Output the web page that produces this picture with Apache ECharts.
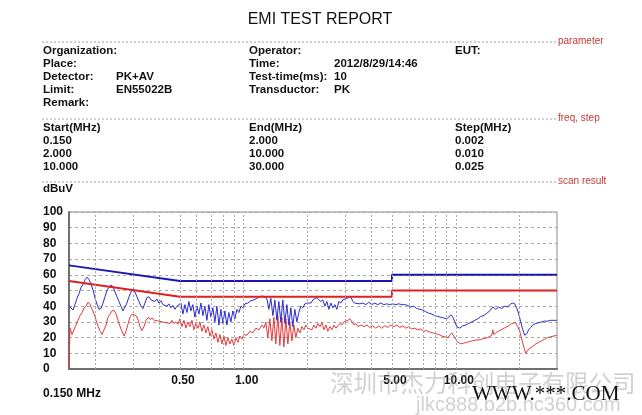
<!DOCTYPE html>
<html><head><meta charset="utf-8">
<script src="https://cdn.jsdelivr.net/npm/echarts@6/dist/echarts.min.js"></script>
<style>html,body{margin:0;padding:0;background:#fff}#c{width:642px;height:415px}</style>
</head><body><div id="c"></div>
<script>
// ---- data ----
const pkTrace = [
[0.1508,40],[0.153,39],[0.1566,37.5],[0.160,41],[0.1636,45],[0.1672,48],[0.171,52],[0.1748,54],[0.1787,57],[0.1825,58.5],
[0.1863,57],[0.1904,54],[0.195,50],[0.199,45],[0.2035,41],[0.2077,38],[0.2123,38.5],[0.217,42],[0.2217,46],[0.2266,50],
[0.2315,52],[0.2366,53.5],[0.2419,52.5],[0.2472,49],[0.2526,46],[0.258,43],[0.2637,40],[0.2695,37],[0.2754,38],[0.2814,42],
[0.2876,46],[0.2939,49],[0.3004,51],[0.307,49],[0.3137,46],[0.3205,43],[0.3276,40],[0.3348,38.5],[0.3421,42],[0.3496,45.5],
[0.3573,46],[0.3651,44],[0.3731,45],[0.3813,43],[0.3897,44.5],[0.3982,42],[0.407,43.5],[0.4159,41],[0.425,42],[0.4343,40],
[0.4438,41.5],[0.4536,39],[0.4635,40.5],[0.4737,38],[0.4841,40],[0.4947,39],
[0.5055,42],[0.5166,35],[0.528,41],[0.5395,36],[0.5514,43],[0.5635,37],[0.5758,41],[0.5885,33],[0.6014,40],[0.6146,35],
[0.628,42],[0.6418,34],[0.6559,40],[0.6703,31],[0.685,41],[0.70,33],[0.7154,39],[0.7311,30],[0.7471,40],[0.7636,28],
[0.7803,38],[0.7974,29],[0.815,37],[0.8328,28],[0.8511,36],[0.8698,30],[0.8889,37],[0.9084,32],[0.9283,38],[0.9486,36],
[0.9694,40],[0.9907,39],[1.0124,41.5],[1.046,42],[1.080,43.5],[1.116,44],[1.153,45],[1.191,46],[1.231,46.5],[1.258,47],
[1.285,45],[1.3136,38],[1.342,45],[1.372,34],[1.402,44],[1.433,31],[1.464,43],[1.496,30],[1.529,44],[1.563,29],
[1.597,41],[1.632,28],[1.668,39],[1.704,27],[1.742,38],[1.78,30],[1.819,36],[1.859,40],[1.9,39],[1.942,41.5],
[1.985,42],[2.028,43],[2.073,42],[2.119,44],[2.165,43],[2.213,45.5],[2.26,44],[2.31,43],[2.361,44],[2.413,40],
[2.466,43],[2.519,38],[2.575,42],[2.632,39],[2.69,41],[2.749,38],[2.808,43],[2.87,42],[2.933,44],[2.997,43],
[3.063,45],[3.13,44],[3.199,46],[3.269,43],[3.341,42],[3.414,43],[3.527,41.5],[3.643,42],[3.763,41],[3.888,42.5],
[4.016,41],[4.149,42],[4.286,41],[4.428,42],[4.574,41],[4.725,41.5],[4.881,41],[5.042,41.5],[5.209,41],[5.384,41.5],
[5.559,41],[5.743,41],[5.933,40.5],[6.129,39.5],[6.332,40],[6.541,38.5],[6.757,38],[6.98,37.5],[7.211,36.5],[7.456,35.5],
[7.70,35],[7.95,34],[8.22,33.5],[8.49,33],[8.77,32.5],[9.06,32],[9.263,33],[9.468,34.5],[9.678,33],[9.894,30],
[10.11,27],[10.44,26],[10.79,27.5],[11.14,28],[11.51,29],[11.89,30],[12.29,31],[12.69,32],[13.11,33.5],[13.55,34],
[14.0,35.5],[14.46,37],[14.94,39.5],[15.43,38],[15.93,39.5],[16.46,38.5],[17.01,40],[17.57,39.5],[18.15,41.5],[18.55,42],
[18.96,41.5],[19.37,39],[19.80,35],[20.24,30],[20.68,25],[21.14,21.5],[21.61,22.5],[22.06,25],[22.55,26.5],[23.05,28],
[23.82,29],[24.59,29.5],[25.43,30],[26.28,30.5],[27.11,30.5],[28.0,31],[28.97,31],[29.9,31]
];
const avTrace = [
[0.150,0],[0.1516,26],[0.155,22],[0.1582,23],[0.1618,28],[0.1654,31],[0.169,34],[0.1729,36],[0.1767,39],[0.1806,40],
[0.1846,42.5],[0.1886,41],[0.1928,38],[0.197,35],[0.2015,31],[0.206,27],[0.2105,24],[0.2147,22],[0.2194,25],[0.2242,28],
[0.229,33],[0.2343,35],[0.2393,37],[0.2446,37.5],[0.25,35],[0.2555,31],[0.2612,27],[0.2666,24],[0.2729,21],[0.2784,24],
[0.2852,29],[0.2908,33],[0.2976,35],[0.304,35.5],[0.3105,34],[0.3184,31],[0.324,27],[0.331,24.5],[0.3385,27],[0.346,31],
[0.3554,33],[0.362,31.5],[0.370,32.5],[0.378,31],[0.3855,32],[0.3967,30.5],[0.4025,31.5],[0.4115,30],[0.420,31],[0.430,29.5],
[0.439,30.5],[0.4486,29],[0.4585,31],[0.4686,29],[0.479,30],[0.489,28.5],[0.500,32],[0.511,27],[0.5222,31],[0.5338,26],
[0.5455,30],[0.5575,27],[0.570,31],[0.5822,25],[0.5949,29],[0.608,26],[0.6213,30],[0.635,24],[0.649,28],[0.6631,23],
[0.6777,27],[0.6926,21],[0.7078,25],[0.7233,19],[0.7392,23],[0.7553,17],[0.7719,22],[0.7888,16],[0.8061,21],[0.8238,15],
[0.8419,20],[0.8604,16],[0.8793,19],[0.8986,15],[0.9184,20],[0.9385,17],[0.9591,21],[0.9801,19],[1.0016,22],[1.035,21.5],
[1.069,24],[1.104,23],[1.141,26],[1.1785,25],[1.218,28],[1.244,26],[1.271,30],[1.299,20],[1.328,32],[1.357,18],
[1.387,33],[1.417,16],[1.448,34],[1.48,15],[1.513,33],[1.546,14],[1.58,32],[1.615,16],[1.65,30],[1.686,18],
[1.723,28],[1.761,20],[1.8,26],[1.84,23],[1.88,27],[1.921,25],[1.964,28],[2.007,26],[2.051,27],[2.096,25],
[2.142,28],[2.189,26],[2.237,29],[2.287,27],[2.337,29.5],[2.388,25],[2.441,28],[2.494,24],[2.549,27],[2.605,25],
[2.663,28],[2.721,26],[2.781,27.5],[2.842,29],[2.905,28],[2.969,30],[3.034,29],[3.1,31],[3.169,32],[3.239,30],
[3.31,28],[3.383,29],[3.457,27],[3.571,28],[3.69,27],[3.81,28],[3.93,26.5],[4.06,27.5],[4.19,26],[4.334,27.5],
[4.477,26],[4.624,27.5],[4.778,26.5],[4.935,28],[5.1,27],[5.268,28],[5.44,26.5],[5.62,27.5],[5.81,26],[6.0,27],
[6.2,25.5],[6.4,26],[6.615,25],[6.834,25.5],[7.06,24],[7.29,24.5],[7.537,23.5],[7.78,23],[8.04,22.5],[8.311,22],
[8.59,21],[8.87,20.5],[9.17,20],[9.36,21.5],[9.57,23],[9.78,21],[10.0,19],[10.22,17],[10.56,16],[10.9,16.5],
[11.26,17],[11.64,17.5],[12.02,18],[12.42,18.5],[12.83,18.5],[13.25,19],[13.7,19.5],[14.15,20],[14.46,21],[14.78,21.5],
[14.94,25],[15.1,22],[15.6,23.5],[16.11,24.5],[16.64,25.5],[17.19,26.5],[17.76,27.5],[18.35,29],[18.75,30],[19.16,29.5],
[19.58,27],[20.02,24],[20.46,19],[20.91,14],[21.37,10],[21.84,12],[22.3,13],[23.05,14.5],[23.82,16],[24.59,17],
[25.43,18],[26.28,19],[27.11,20],[28.0,20.5],[28.97,21],[29.9,21.5]
];
const qpLimit = [[0.15,66],[0.5,56],[5,56],[5,60],[30,60]];
const avLimit = [[0.15,56],[0.5,46],[5,46],[5,50],[30,50]];
const gridFreqs = [0.2,0.3,0.4,0.5,0.6,0.7,0.8,0.9,1,2,3,4,5,6,7,8,9,10,20];
const xLabelFreqs = [0.5,1,5,10];
const xLabelTexts = ['0.50','1.00','5.00','10.00'];
const yMin = 0, yMax = 100, yStep = 10;

const reportTitle = 'EMI TEST REPORT';
const paramLabelsA = ['Organization:','Place:','Detector:','Limit:','Remark:'];
const paramValuesA = ['','','PK+AV','EN55022B',''];
const paramLabelsB = ['Operator:','Time:','Test-time(ms):','Transductor:',''];
const paramValuesB = ['','2012/8/29/14:46','10','PK',''];
const paramLabelsC = ['EUT:','','','',''];
const freqHeaders = ['Start(MHz)','End(MHz)','Step(MHz)'];
const freqStart = ['0.150','2.000','10.000'];
const freqEnd = ['2.000','10.000','30.000'];
const freqStep = ['0.002','0.010','0.025'];
const sectionNames = ['parameter','freq, step','scan result'];
const unitLabel = 'dBuV';
const startFreqLabel = '0.150 MHz';
const watermarkCn = '深圳市杰力科创电子有限公司';
const watermarkUrl = 'jlkc888.b2b.hc360.com';
const watermarkWww = 'WWW.***.COM';

// ---- layout ----
const FONT = '"Liberation Sans", Arial, sans-serif';
const boldTxt = (x, y, s, size) => ({type:'text', x, y, style:{text:s, fill:'#111', font:'bold ' + (size||11.5) + 'px ' + FONT, textVerticalAlign:'middle'}});
const graphics = [];
graphics.push({type:'text', x:320, y:20, style:{text:reportTitle, fill:'#111', font:'16px ' + FONT, textAlign:'center', textVerticalAlign:'middle'}});
const sepY = [42, 119, 182];
sepY.forEach((y, i) => {
  graphics.push({type:'line', shape:{x1:42, y1:y, x2:556, y2:y}, style:{stroke:'#a0a0a0', lineWidth:1, lineDash:[2,2]}});
  graphics.push({type:'text', x:558, y:y - 1, style:{text:sectionNames[i], fill:'#c83838', font:'10px ' + FONT, textVerticalAlign:'middle'}});
});
const rowY0 = 51, rowDy = 13;
for (let i = 0; i < 5; i++) {
  const y = rowY0 + i * rowDy;
  if (paramLabelsA[i]) graphics.push(boldTxt(43, y, paramLabelsA[i]));
  if (paramValuesA[i]) graphics.push(boldTxt(116, y, paramValuesA[i]));
  if (paramLabelsB[i]) graphics.push(boldTxt(249, y, paramLabelsB[i]));
  if (paramValuesB[i]) graphics.push(boldTxt(334, y, paramValuesB[i]));
  if (paramLabelsC[i]) graphics.push(boldTxt(455, y, paramLabelsC[i]));
}
const colX = [43, 249, 455];
freqHeaders.forEach((h, i) => graphics.push(boldTxt(colX[i], 128, h)));
[freqStart, freqEnd, freqStep].forEach((col, c) => col.forEach((s, r) => graphics.push(boldTxt(colX[c], 141 + r * 13, s))));
graphics.push(boldTxt(43, 189, unitLabel));
graphics.push(boldTxt(43, 394, startFreqLabel, 12));
// watermark
graphics.push({type:'text', x:330, y:383, z:100, style:{text:watermarkCn, fill:'rgba(150,150,150,0.45)', font:'23.5px "Noto Sans CJK SC", sans-serif', textVerticalAlign:'middle'}});
graphics.push({type:'text', x:416, y:405, z:100, style:{text:watermarkUrl, fill:'rgba(150,150,150,0.45)', font:'20px ' + FONT, textVerticalAlign:'middle'}});
graphics.push({type:'text', x:472, y:394, z:101, style:{text:watermarkWww, fill:'#111', font:'21px "Liberation Serif", serif', textVerticalAlign:'middle'}});

const gridLineData = gridFreqs.map(f => {
  const i = xLabelFreqs.indexOf(f);
  return i < 0 ? {xAxis: f} : {xAxis: f, label: {show: true, formatter: xLabelTexts[i]}};
});

const chart = echarts.init(document.getElementById('c'), null, {renderer: 'canvas'});
chart.setOption({
  animation: false,
  backgroundColor: '#fff',
  grid: {left: 69, right: 85, top: 212, bottom: 46, show: true, borderColor: '#8a8a8a', borderWidth: 1, outerBoundsMode: 'none', containLabel: false},
  xAxis: {
    type: 'log', logBase: 10, min: 0.15, max: 30,
    axisLine: {show: true, onZero: false, lineStyle: {color: '#707070', width: 2}},
    axisTick: {show: false}, axisLabel: {show: false}, splitLine: {show: false}, minorTick: {show: false}
  },
  yAxis: {
    type: 'value', min: yMin, max: yMax, interval: yStep,
    axisLine: {show: true, lineStyle: {color: '#707070', width: 2}},
    axisTick: {show: false},
    axisLabel: {margin: 26, align: 'left', color: '#111', fontWeight: 'bold', fontSize: 12, fontFamily: FONT},
    splitLine: {show: true, lineStyle: {color: '#a8a8a8', type: [3, 3], width: 1}}
  },
  graphic: graphics,
  series: [
    {type: 'line', data: [], silent: true, z: 1,
     markLine: {silent: true, symbol: ['none', 'none'], animation: false,
       lineStyle: {color: '#a8a8a8', type: [2, 2], width: 1},
       label: {show: false, position: 'start', distance: 6, offset: [3, 0], color: '#111', fontWeight: 'bold', fontSize: 12, fontFamily: FONT},
       emphasis: {disabled: true},
       data: gridLineData}},
    {name: 'AV', type: 'line', data: avTrace, showSymbol: false, z: 3, lineStyle: {color: '#e03a3a', width: 1}},
    {name: 'PK', type: 'line', data: pkTrace, showSymbol: false, z: 3, lineStyle: {color: '#2a2ad0', width: 1}},
    {name: 'AV limit', type: 'line', data: avLimit, showSymbol: false, z: 4, lineStyle: {color: '#e02020', width: 2}},
    {name: 'QP limit', type: 'line', data: qpLimit, showSymbol: false, z: 4, lineStyle: {color: '#1818b0', width: 2}}
  ]
});
</script></body></html>
